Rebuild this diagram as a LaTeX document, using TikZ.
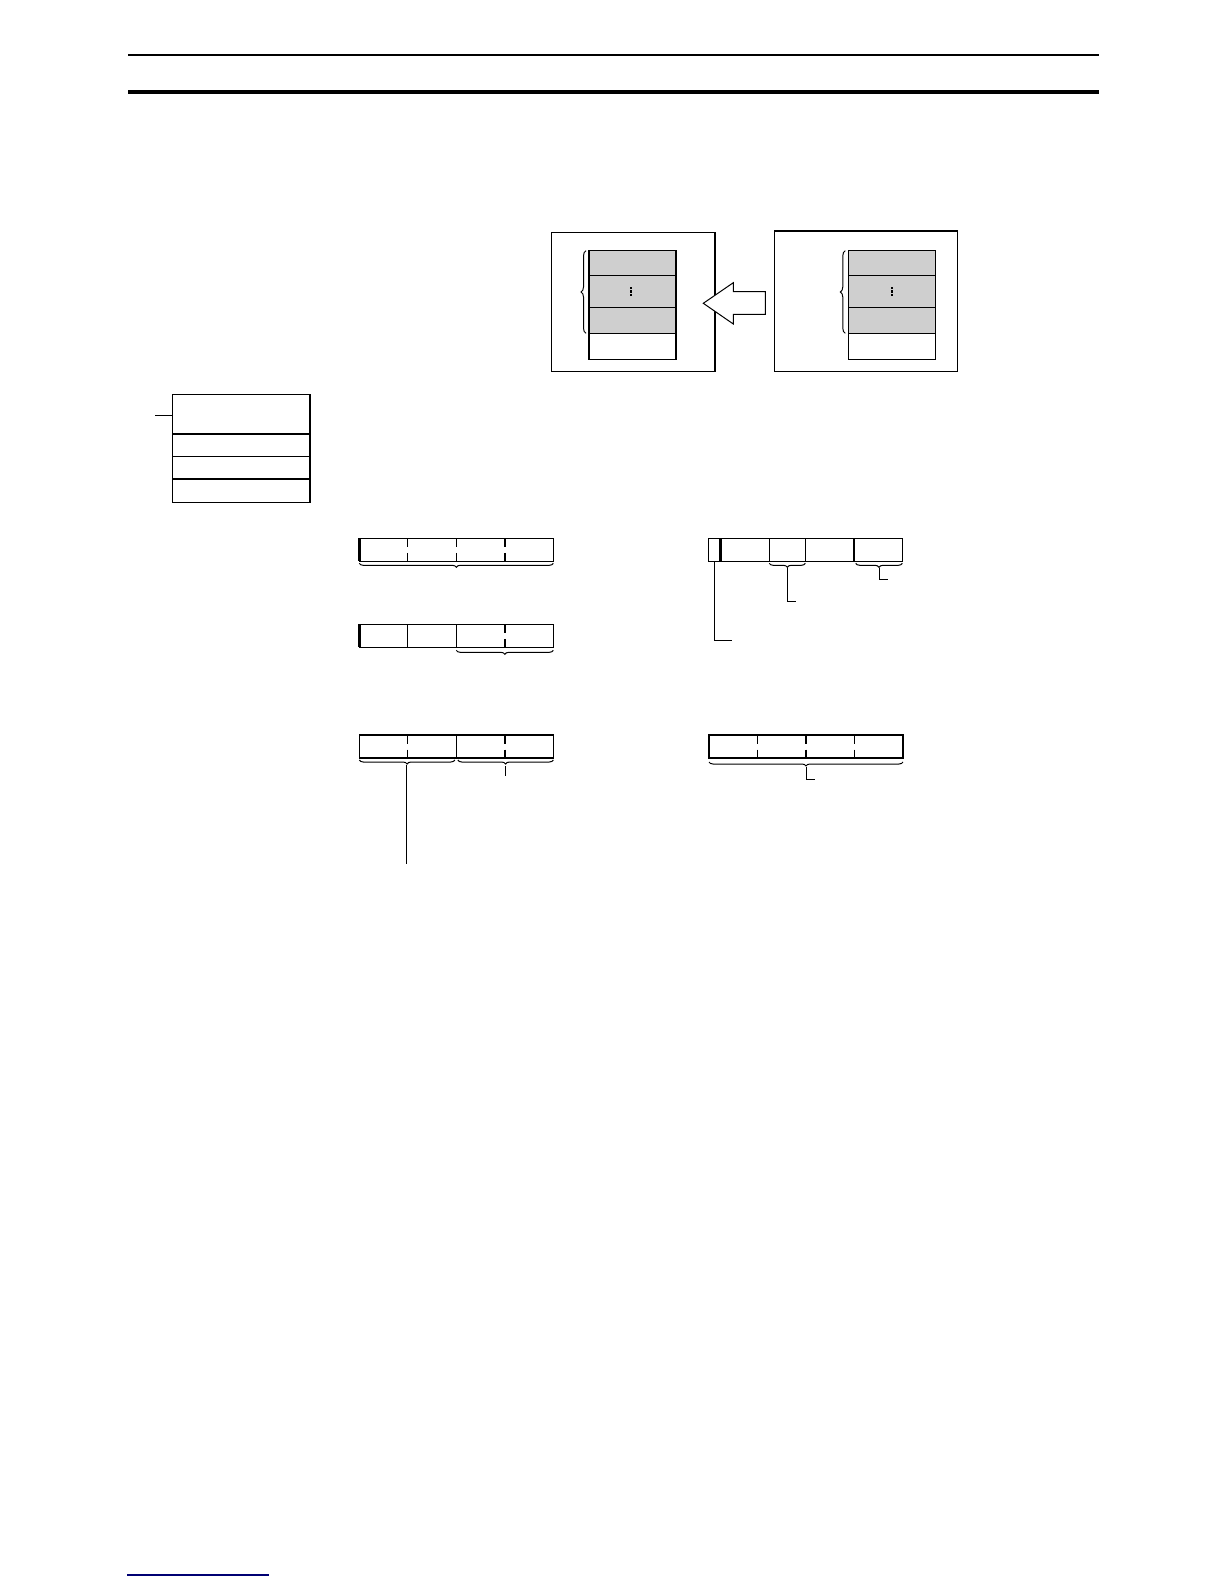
\documentclass[tikz,border=0pt]{standalone}
\usetikzlibrary{decorations.pathreplacing,calc}
\tikzset{
  box/.style={draw, line width=1.3pt, inner sep=0pt, outer sep=0pt, anchor=north west},
  graycell/.style={box, fill=black!19},
  whitecell/.style={box, fill=white},
  reg/.style={box, minimum width=194pt, minimum height=23pt},
  brcd/.style={decorate, decoration={brace, mirror, amplitude=4pt}, line width=1pt},
  brcl/.style={decorate, decoration={brace, amplitude=5pt}, line width=1pt},
  lead/.style={line width=1pt},
  divthin/.style={line width=1.2pt},
  divthick/.style={line width=2.6pt},
  gapped/.style={dash pattern=on 8.5pt off 6pt on 12pt},
  dotsmark/.style={line width=2pt, dash pattern=on 2.2pt off 1.2pt},
}
\begin{document}
\begin{tikzpicture}[x=1pt,y=-1pt]
\useasboundingbox (0,0) rectangle (1224,1584);

% page rules
\draw[line width=1.8pt] (128,54.8) -- (1099,54.8);
\draw[line width=4.3pt] (128,92.2) -- (1099,92.2);
\draw[line width=1.2pt, color=blue!45!black] (127,1575) -- (269,1575);

% ---------- transfer figure ----------
\node[box, minimum width=163.3pt, minimum height=139.4pt] (LB) at (551.7,232.3) {};
\node[box, minimum width=183.4pt, minimum height=140.7pt] (RB) at (774.3,231) {};

% left stack
\node[graycell, minimum width=87pt, minimum height=24.6pt] (L1) at (589,250.7) {};
\node[graycell, minimum width=87pt, minimum height=32.4pt] (L2) at (589,275.3) {};
\node[graycell, minimum width=87pt, minimum height=25.6pt] (L3) at (589,307.7) {};
\node[whitecell, minimum width=87pt, minimum height=26pt] (L4) at (589,333.3) {};
\draw[dotsmark] ($(L2.center)+(-2,-4.5)$) -- ($(L2.center)+(-2,5)$);
\draw[brcl] ($(L3.south west)+(-3,0)$) -- ($(L1.north west)+(-3,0)$);

% right stack
\node[graycell, minimum width=87pt, minimum height=24.6pt] (Q1) at (848.3,250.7) {};
\node[graycell, minimum width=87pt, minimum height=32.4pt] (Q2) at (848.3,275.3) {};
\node[graycell, minimum width=87pt, minimum height=25.6pt] (Q3) at (848.3,307.7) {};
\node[whitecell, minimum width=87pt, minimum height=26pt] (Q4) at (848.3,333.3) {};
\draw[dotsmark] ($(Q2.center)+(0,-4.5)$) -- ($(Q2.center)+(0,5)$);
\draw[brcl] ($(Q3.south west)+(-3,0)$) -- ($(Q1.north west)+(-3,0)$);

% hollow arrow
\draw[line width=1pt, fill=white] (765.3,291.7) -- (733.3,291.7) -- (733.3,282.7)
  -- (703.3,303.3) -- (733.3,324) -- (733.3,314.3) -- (765.3,314.3) -- cycle;

% ---------- operand list box ----------
\node[box, minimum width=137.7pt, minimum height=39.7pt] (B1) at (172.3,394.3) {};
\node[box, minimum width=137.7pt, minimum height=22.3pt] (B2) at (172.3,434) {};
\node[box, minimum width=137.7pt, minimum height=22.7pt] (B3) at (172.3,456.3) {};
\node[box, minimum width=137.7pt, minimum height=23.3pt] (B4) at (172.3,479) {};
\coordinate (Bt) at ($(B1.west)+(-17,1)$);
\draw[lead, line width=1.3pt] ($(B1.west)+(0,1)$) -- (Bt);

% ---------- register R1 ----------
\node[reg] (R1) at (359.3,538.3) {};
\draw[divthin, gapped] ($(R1.north west)+(48.5,0)$) -- ($(R1.south west)+(48.5,0)$);
\draw[divthin, gapped] ($(R1.north west)+(97,0)$) -- ($(R1.south west)+(97,0)$);
\draw[divthick, gapped] ($(R1.north west)+(145.7,0)$) -- ($(R1.south west)+(145.7,0)$);
\draw[line width=2.4pt] (R1.north west) -- (R1.south west);
\draw[brcd] ($(R1.south west)+(0,2)$) -- ($(R1.south east)+(0,2)$);

% ---------- register R2 ----------
\node[reg] (R2) at (359.3,624.3) {};
\draw[divthin] ($(R2.north west)+(48.5,0)$) -- ($(R2.south west)+(48.5,0)$);
\draw[divthin] ($(R2.north west)+(97,0)$) -- ($(R2.south west)+(97,0)$);
\draw[divthick, gapped] ($(R2.north west)+(145.7,0)$) -- ($(R2.south west)+(145.7,0)$);
\draw[line width=2.4pt] (R2.north west) -- (R2.south west);
\draw[brcd] ($(R2.south west)+(97,3)$) -- ($(R2.south east)+(0,3)$);

% ---------- register R3 ----------
\node[reg] (R3) at (359.3,735) {};
\draw[divthin, gapped] ($(R3.north west)+(48.5,0)$) -- ($(R3.south west)+(48.5,0)$);
\draw[divthin] ($(R3.north west)+(97,0)$) -- ($(R3.south west)+(97,0)$);
\draw[divthick, gapped] ($(R3.north west)+(145.7,0)$) -- ($(R3.south west)+(145.7,0)$);
\draw[brcd] ($(R3.south west)+(0,2)$) -- ($(R3.south west)+(95.5,2)$);
\draw[brcd] ($(R3.south west)+(98.5,2)$) -- ($(R3.south east)+(0,2)$);
\coordinate (R3a) at ($(R3.south west)+(47.5,6.5)$);
\coordinate (R3aEnd) at ($(R3.south west)+(47.5,106.3)$);
\draw[lead] (R3a) -- (R3aEnd);
\coordinate (R3b) at ($(R3.south west)+(145.7,8)$);
\coordinate (R3bEnd) at ($(R3.south west)+(145.7,18.3)$);
\draw[lead] (R3b) -- (R3bEnd);

% ---------- register R4 ----------
\node[reg] (R4) at (708.3,538.3) {};
\draw[divthick] ($(R4.north west)+(12.4,0)$) -- ($(R4.south west)+(12.4,0)$);
\draw[divthin] ($(R4.north west)+(61,0)$) -- ($(R4.south west)+(61,0)$);
\draw[divthin] ($(R4.north west)+(97,0)$) -- ($(R4.south west)+(97,0)$);
\draw[divthick] ($(R4.north west)+(145.7,0)$) -- ($(R4.south west)+(145.7,0)$);
\draw[brcd] ($(R4.south west)+(61,2)$) -- ($(R4.south west)+(97,2)$);
\draw[brcd] ($(R4.south west)+(147.4,2)$) -- ($(R4.south east)+(0,2)$);
\coordinate (R4a) at ($(R4.south west)+(79,6.5)$);
\draw[lead] (R4a) |- ++(9,33.5);
\coordinate (R4b) at ($(R4.south west)+(170.7,6.5)$);
\draw[lead] (R4b) |- ++(9.3,11.5);
\coordinate (R4c) at ($(R4.south west)+(5.7,0)$);
\draw[lead] (R4c) |- ++(17.7,79.4);

% ---------- register R5 ----------
\node[reg] (R5) at (709,735) {};
\draw[divthin, gapped] ($(R5.north west)+(48.5,0)$) -- ($(R5.south west)+(48.5,0)$);
\draw[divthin, gapped] ($(R5.north west)+(97,0)$) -- ($(R5.south west)+(97,0)$);
\draw[divthin, gapped] ($(R5.north west)+(145.5,0)$) -- ($(R5.south west)+(145.5,0)$);
\draw[brcd] ($(R5.south west)+(0,4)$) -- ($(R5.south east)+(0,4)$);
\coordinate (R5a) at ($(R5.south west)+(97,8.5)$);
\draw[lead] (R5a) |- ++(9,12.5);

\end{tikzpicture}
\end{document}
